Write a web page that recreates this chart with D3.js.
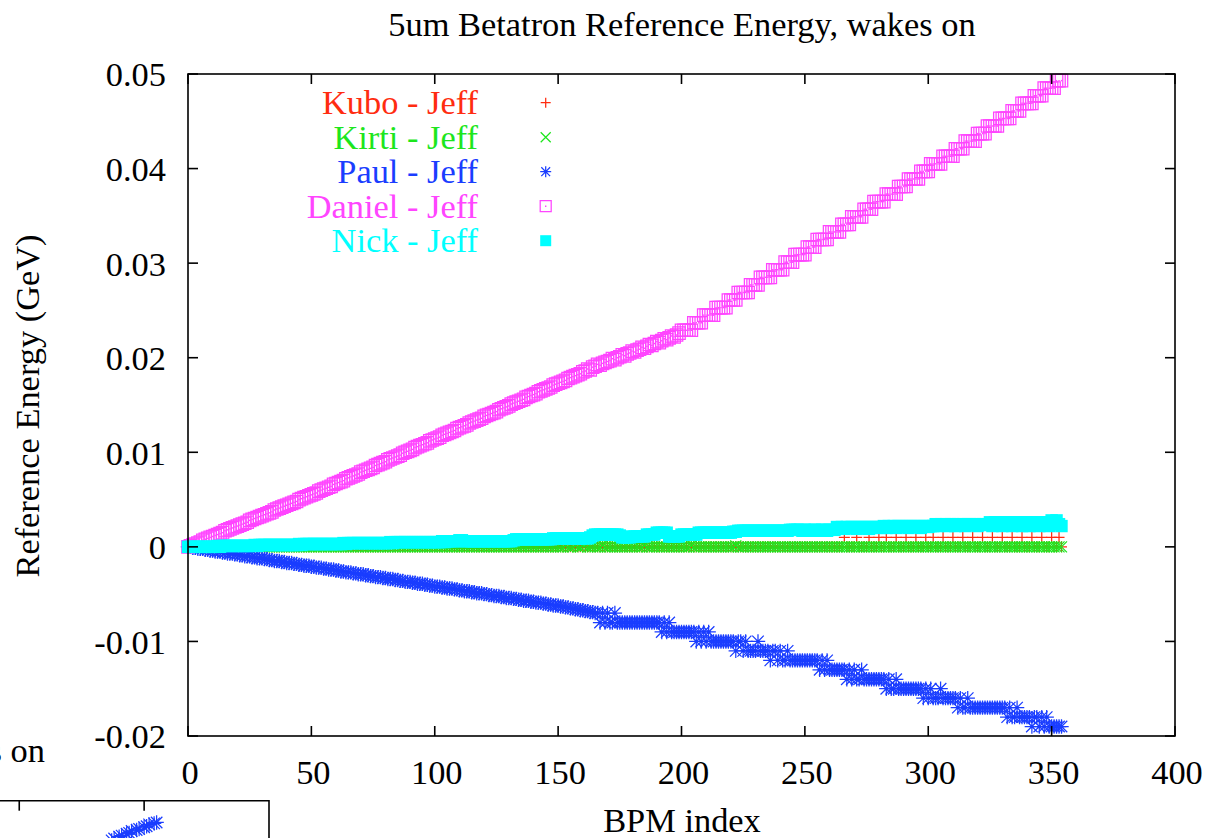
<!DOCTYPE html>
<html><head><meta charset="utf-8">
<script src="https://cdn.jsdelivr.net/npm/d3@7"></script>
<style>html,body{margin:0;padding:0;background:#fff;}svg{display:block;font-family:"Liberation Serif","Times New Roman",serif;}</style>
</head><body><svg id="chart" width="1206" height="838"></svg>
<script>
const chartTitle = "5um Betatron Reference Energy, wakes on";
const xLabel = "BPM index";
const yLabel = "Reference Energy (GeV)";
const xTicks = [0, 50, 100, 150, 200, 250, 300, 350, 400];
const yTicks = [-0.02, -0.01, 0, 0.01, 0.02, 0.03, 0.04, 0.05];
const yTickLabels = ["-0.02", "-0.01", "0", "0.01", "0.02", "0.03", "0.04", "0.05"];
const seriesNames = ["Kubo - Jeff", "Kirti - Jeff", "Paul - Jeff", "Daniel - Jeff", "Nick - Jeff"];
const seriesColors = ["#ff2c10", "#1de61d", "#1a3dff", "#ff45ff", "#00ffff"];
const seriesSymbols = ["plus", "cross", "star", "box", "fbox"];
// values per BPM index 0..354, in units of 1e-4 GeV
const kubo = [
0,0,0,0,0,0,0,0,0,0, 0,0,0,0,0,0,0,0,0,0, 0,0,0,0,0,0,0,0,0,0, 0,0,0,0,0,0,0,0,0,0,
0,0,0,0,0,0,0,0,0,0, 0,0,0,0,0,0,0,0,0,0, 0,0,0,0,0,0,0,0,0,0, 0,0,0,0,0,0,0,0,0,0,
0,0,0,0,0,0,0,0,0,0, 0,0,0,0,0,0,0,0,0,0, 0,0,0,0,0,0,0,0,0,0, 0,0,0,0,0,0,0,0,0,0,
0,0,0,0,0,0,0,0,0,0, 0,0,0,0,0,0,0,0,0,0, 0,0,0,0,0,0,0,0,0,0, 0,0,0,0,0,0,0,0,0,0,
0,0,0,0,0,0,0,0,0,0, 0,0,0,0,0,0,0,0,0,0, 0,0,0,0,0,0,0,0,0,0, 0,0,0,0,0,0,0,0,0,0,
0,0,0,0,0,0,0,0,0,0, 0,0,0,0,0,0,0,0,0,0, 0,0,0,0,0,0,0,0,0,0, 0,0,0,0,0,0,0,0,0,0,
0,0,0,0,0,0,0,0,0,0, 0,0,0,0,0,0,0,0,0,0,
0,0,0,0,0,0,10,0,0,0, 0,10,0,0,0,0,10,0,0,0, 10,0,0,10,0,0,0,10,0,0, 0,10,0,0,0,10,0,0,0,10,
0,0,10,0,0,0,10,0,0,0, 10,0,0,0,10,0,0,0,10,0, 0,0,10,0,0,0,10,0,0,0, 10,0,0,0,10,0,0,0,10,0,
0,0,10,0,0,0,10,0,0,0, 10,0,0,10,0
];
const kirti = [
0,0,0,0,0,0,0,0,0,0, 0,0,0,0,0,0,0,0,0,0, 0,0,0,0,0,0,0,0,0,0, 0,0,0,0,0,0,0,0,0,0,
0,0,0,0,0,0,0,0,0,0, 0,0,0,0,0,0,0,0,0,0, 0,0,0,0,0,0,0,0,0,0, 0,0,0,0,0,0,0,0,0,0,
0,0,0,0,0,0,0,0,0,0, 0,0,0,0,0,0,0,0,0,0, 0,0,0,0,0,0,0,0,0,0, 0,0,0,0,0,0,0,0,0,0,
0,0,0,0,0,0,0,0,0,0, 0,0,0,0,0,0,0,0,0,0, 0,0,0,0,0,0,0,0,0,0, 0,0,0,1,0,0,0,1,0,0,
1,1,0,0,0,0,0,0,1,0, 0,0,0,0,0,0,0,0,0,0, 0,0,0,0,0,1,0,0,0,0, 0,0,0,0,0,0,0,0,0,0,
0,0,0,0,1,0,0,0,0,0, 0,0,0,0,0,0,0,0,0,0, 0,0,1,0,0,0,0,0,0,0, 0,0,0,0,0,0,0,0,0,0,
0,0,0,0,0,0,0,0,0,0, 0,0,0,0,0,0,0,0,0,0, 0,0,0,0,0,0,0,0,0,0, 0,0,0,0,0,0,0,0,0,0,
0,0,0,0,0,0,0,0,0,0, 0,0,0,0,0,0,0,0,0,0, 0,0,0,0,0,0,0,0,0,0, 0,0,0,0,0,0,0,0,0,0,
0,0,0,0,0,0,0,0,0,0, 0,0,0,0,0,0,0,0,0,0, 0,0,0,0,0,0,0,0,0,0, 0,0,0,0,0
];
const paul = [
0,0,-1,-1,-2,-2,-2,-3,-3,-4, -4,-5,-5,-5,-6,-6,-7,-7,-7,-8,
-8,-9,-9,-10,-10,-10,-11,-11,-12,-12, -12,-13,-13,-14,-14,-15,-15,-15,-16,-16,
-17,-17,-17,-18,-18,-19,-19,-20,-20,-20, -21,-21,-22,-22,-22,-23,-23,-24,-24,-24,
-25,-25,-26,-26,-27,-27,-27,-28,-28,-29, -29,-29,-30,-30,-31,-31,-32,-32,-32,-33,
-33,-34,-34,-34,-35,-35,-36,-36,-37,-37, -37,-38,-38,-39,-39,-39,-40,-40,-41,-41,
-42,-42,-42,-43,-43,-44,-44,-44,-45,-45, -46,-46,-47,-47,-47,-48,-48,-49,-49,-49,
-50,-50,-51,-51,-52,-52,-52,-53,-53,-54, -54,-54,-55,-55,-56,-56,-57,-57,-57,-58,
-58,-59,-59,-59,-60,-60,-61,-61,-62,-62, -62,-63,-63,-64,-64,-65,-65,-66,-66,-67,
-67,-68,-68,-69,-69,-70,-70,-80,-70,-80, -70,-80,-80,-70,-80,-80,-80,-80,-80,-80,
-80,-80,-80,-80,-80,-80,-80,-80,-80,-80, -80,-80,-90,-80,-90,-80,-90,-90,-90,-90,
-90,-90,-90,-90,-90,-90,-100,-90,-100,-90, -100,-90,-100,-100,-100,-100,-100,-100,-100,-100,
-100,-100,-110,-100,-100,-110,-100,-110,-110,-110, -110,-100,-110,-110,-110,-110,-120,-110,-110,-120,
-110,-120,-120,-110,-120,-120,-120,-120,-120,-120, -120,-120,-120,-120,-120,-120,-130,-120,-130,-120,
-130,-130,-130,-130,-130,-130,-130,-140,-130,-140, -130,-140,-140,-130,-140,-140,-140,-140,-140,-140,
-140,-140,-140,-150,-140,-150,-150,-140,-150,-150, -150,-150,-150,-150,-150,-150,-150,-150,-160,-150,
-160,-150,-160,-160,-160,-150,-160,-160,-160,-160, -160,-160,-170,-160,-170,-170,-160,-170,-170,-170,
-170,-170,-170,-170,-170,-170,-170,-170,-170,-170, -170,-170,-180,-170,-180,-180,-170,-180,-180,-180,
-180,-180,-190,-180,-180,-190,-180,-190,-180,-190, -190,-190,-190,-190,-190
];
const daniel = [
0,1,2,3,4,5,7,8,9,10, 11,12,13,14,15,17,18,19,20,21,
22,23,24,25,26,28,29,30,31,32, 33,34,35,36,37,39,40,41,42,43,
44,45,46,47,48,50,51,52,53,54, 55,56,57,59,60,61,62,63,64,66,
67,68,69,70,72,73,74,75,76,77, 79,80,81,82,83,84,86,87,88,89,
90,92,93,94,95,96,97,99,100,101, 102,103,105,106,107,108,109,110,112,113,
114,115,116,118,119,120,121,122,123,125, 126,127,128,129,131,132,133,134,135,136,
138,139,140,141,142,143,145,146,147,148, 149,151,152,153,154,155,156,158,159,160,
161,162,164,165,166,167,168,169,171,172, 173,174,175,176,178,179,180,181,182,183,
185,186,188,187,190,191,193,192,194,195, 196,197,199,198,200,201,203,202,204,205,
207,206,208,209,211,210,212,214,213,215, 217,216,218,220,219,221,223,222,224,226,
229,229,229,229,229,237,237,237,237,245, 245,245,245,245,253,253,253,253,253,261,
261,261,261,269,269,269,269,269,277,277, 277,277,285,285,285,285,285,293,293,293,
293,293,301,301,301,301,309,309,309,309, 309,317,317,317,317,325,325,325,325,325,
333,333,333,333,333,341,341,341,341,349, 349,349,349,349,357,357,357,357,365,365,
365,365,365,373,373,373,373,373,381,381, 381,381,389,389,389,389,389,397,397,397,
397,405,405,405,405,405,413,413,413,413, 413,421,421,421,421,429,429,429,429,429,
437,437,437,437,445,445,445,445,445,453, 453,453,453,453,461,461,461,461,469,469,
469,469,469,477,477,477,477,485,485,485, 485,485,493,493,493
];
const nick = [
0,0,0,0,0,0,0,0,0,0, 0,0,1,0,1,1,1,1,1,1,
1,1,1,1,1,1,1,2,1,2, 2,2,2,2,2,2,2,2,2,2,
2,2,2,2,2,3,2,3,3,3, 3,3,3,3,3,3,3,3,3,3,
3,3,3,4,3,4,4,4,4,4, 4,4,4,4,4,4,4,4,4,4,
4,4,5,4,5,5,5,5,5,5, 5,5,5,5,5,5,5,5,5,5,
5,5,5,6,5,6,6,6,6,6, 7,7,6,6,6,6,6,6,6,6,
6,6,6,6,6,6,6,6,6,6, 6,6,7,8,8,8,8,8,8,8,
8,8,8,8,8,8,8,8,9,9, 9,9,9,9,9,9,9,9,9,9,
9,9,9,10,12,13,13,13,13,13, 13,13,13,13,13,12,10,10,10,10,
11,11,11,11,11,11,13,13,13,13, 15,15,15,15,15,11,11,11,11,11,
13,13,13,13,13,13,13,15,15,15, 15,15,15,15,15,15,15,15,15,15,
15,16,16,17,17,17,17,17,17,17, 17,17,17,17,17,17,17,17,17,17,
17,17,17,17,18,18,18,18,18,17, 18,18,17,18,18,17,18,18,18,17,
18,18,18,21,20,21,19,21,20,21, 21,19,21,20,21,21,19,21,20,21,
21,20,22,20,22,21,22,20,22,22, 21,22,20,22,22,21,22,20,22,22,
21,22,22,24,22,24,23,24,22,24, 24,22,24,23,24,22,24,24,23,24,
22,24,24,23,24,26,22,26,24,26, 22,26,25,26,22,26,24,26,22,26,
26,22,26,24,26,22,26,25,26,22, 28,26,28,24,22
];
const UNIT = 1e-4;
// fragment of a neighbouring plot visible at bottom-left
const fragTitle = "wakes on";
const fragXTicks = [250, 300, 350];
const fragBpm = [337, 338, 340, 341, 343, 344, 345, 347, 348, 350, 351, 352, 354, 355];
const fragVal = [0.0458, 0.0460, 0.0462, 0.0463, 0.0465, 0.0466, 0.0468, 0.0469, 0.0470, 0.0472, 0.0473, 0.0475, 0.0476, 0.0477];

const seriesData = [kubo, kirti, paul, daniel, nick];
const svg = d3.select("#chart");
const L = 188, R = 1175, T = 74, B = 736;
const x = d3.scaleLinear().domain([0, 400]).range([L, R]);
const y = d3.scaleLinear().domain([-0.02, 0.05]).range([B, T]);
const FS = 34.4;

function symPath(type, h) {
  switch (type) {
    case "plus": return `M${-h},0H${h}M0,${-h}V${h}`;
    case "cross": return `M${-h},${-h}L${h},${h}M${-h},${h}L${h},${-h}`;
    case "star": return `M${-h},0H${h}M0,${-h}V${h}M${-h*0.8},${-h*0.8}L${h*0.8},${h*0.8}M${-h*0.8},${h*0.8}L${h*0.8},${-h*0.8}`;
    case "box": return `M${-h},${-h}H${h}V${h}H${-h}Z`;
    case "fbox": return `M${-h},${-h}H${h}V${h}H${-h}Z`;
  }
}
const plotHalf = {plus: 5.5, cross: 5.5, star: 7.2, box: 6.2, fbox: 6.2};
const legHalf = {plus: 5, cross: 5, star: 5.5, box: 5.5, fbox: 5.5};

function drawSymbol(sel, type, color, h) {
  sel.append("path").attr("d", symPath(type, h))
    .attr("fill", type === "fbox" ? color : "none")
    .attr("stroke", color).attr("stroke-width", type === "fbox" ? 0 : 1.25);
  if (type === "box" || type === "star") {
    sel.append("path").attr("d", "M-0.7,-0.7h1.4v1.4h-1.4z").attr("fill", color);
  }
}

// series points (gnuplot order: first drawn first)
seriesData.forEach((vals, k) => {
  const g = svg.append("g");
  const type = seriesSymbols[k], color = seriesColors[k];
  g.selectAll("g").data(vals).join("g")
    .attr("transform", (v, i) => `translate(${x(i)},${y(v * UNIT)})`)
    .each(function () { drawSymbol(d3.select(this), type, color, plotHalf[type]); });
});

// frame
svg.append("rect").attr("x", L).attr("y", T).attr("width", R - L).attr("height", B - T)
  .attr("fill", "none").attr("stroke", "#000").attr("stroke-width", 1.6);
const tk = 10;
const ax = svg.append("g").attr("stroke", "#000").attr("stroke-width", 1.6);
xTicks.forEach(t => {
  ax.append("line").attr("x1", x(t)).attr("x2", x(t)).attr("y1", B).attr("y2", B - tk);
  ax.append("line").attr("x1", x(t)).attr("x2", x(t)).attr("y1", T).attr("y2", T + tk);
});
yTicks.forEach(t => {
  ax.append("line").attr("x1", L).attr("x2", L + tk).attr("y1", y(t)).attr("y2", y(t));
  ax.append("line").attr("x1", R).attr("x2", R - tk).attr("y1", y(t)).attr("y2", y(t));
});

// tick labels
svg.append("g").selectAll("text").data(xTicks).join("text")
  .attr("x", d => x(d) + 2).attr("y", 784).attr("text-anchor", "middle")
  .attr("font-size", FS).text(d => d);
svg.append("g").selectAll("text").data(yTicks).join("text")
  .attr("x", 166).attr("y", d => y(d)).attr("dy", "0.36em").attr("text-anchor", "end")
  .attr("font-size", FS).text((d, i) => yTickLabels[i]);

// titles
svg.append("text").attr("x", 682).attr("y", 36).attr("text-anchor", "middle").attr("font-size", FS).text(chartTitle);
svg.append("text").attr("x", 682).attr("y", 832).attr("text-anchor", "middle").attr("font-size", FS).text(xLabel);
svg.append("text").attr("transform", "translate(39,406) rotate(-90)").attr("text-anchor", "middle").attr("font-size", FS).text(yLabel);

// legend
seriesNames.forEach((n, k) => {
  const cy = 102.7 + k * 34.5;
  svg.append("text").attr("x", 478).attr("y", cy).attr("dy", "0.33em").attr("text-anchor", "end")
    .attr("font-size", FS).attr("fill", seriesColors[k]).text(n);
  const g = svg.append("g").attr("transform", `translate(545.7,${cy})`);
  drawSymbol(g, seriesSymbols[k], seriesColors[k], legHalf[seriesSymbols[k]]);
});

// neighbouring plot fragment (bottom-left)
const fx = d3.scaleLinear().domain([0, 400]).range([-730, 269]);
const fy = d3.scaleLinear().domain([-0.02, 0.05]).range([800.7 + 662, 800.7]);
const fg = svg.append("g");
fg.append("text").attr("x", 45).attr("y", 762).attr("text-anchor", "end").attr("font-size", FS).text(fragTitle);
fg.append("path").attr("d", `M${fx(0)},${fy(0.05)}H${fx(400)}V${fy(-0.02)}`).attr("fill", "none").attr("stroke", "#000").attr("stroke-width", 1.6);
fragXTicks.forEach(t => {
  fg.append("line").attr("x1", fx(t)).attr("x2", fx(t)).attr("y1", fy(0.05)).attr("y2", fy(0.05) + tk)
    .attr("stroke", "#000").attr("stroke-width", 1.6);
});
fg.selectAll("g.fs").data(fragBpm).join("g").attr("class", "fs")
  .attr("transform", (b, i) => `translate(${fx(b)},${fy(fragVal[i])})`)
  .each(function () { drawSymbol(d3.select(this), "star", seriesColors[2], 7.2); });
</script></body></html>
